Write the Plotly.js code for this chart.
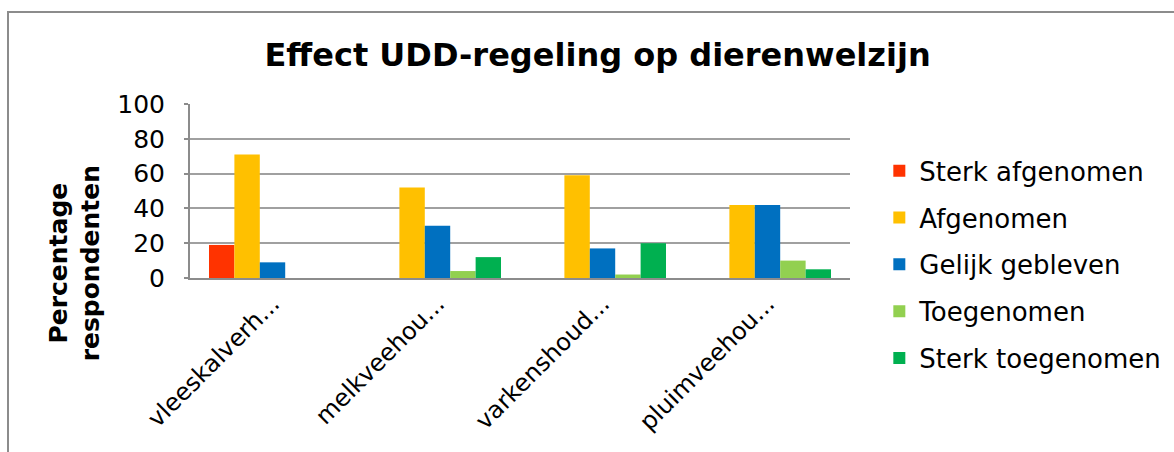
<!DOCTYPE html>
<html>
<head>
<meta charset="utf-8">
<script src="https://cdn.plot.ly/plotly-3.0.1.min.js"></script>
<style>
  html, body { margin: 0; padding: 0; background: #fff; }
  #wrap { position: relative; width: 1174px; height: 452px; overflow: hidden; }
  #chart { width: 1174px; height: 452px; }
  #frame { position: absolute; left: 7px; top: 11px; width: 1200px; height: 500px;
           border-left: 2px solid #8c8c8c; border-top: 2px solid #8c8c8c; pointer-events: none; }
</style>
</head>
<body>
<div id="wrap">
  <div id="chart"></div>
  <div id="frame"></div>
</div>
<script>
const categories = ["vleeskalverh...", "melkveehou...", "varkenshoud...", "pluimveehou..."];
const seriesNames = ["Sterk afgenomen", "Afgenomen", "Gelijk gebleven", "Toegenomen", "Sterk toegenomen"];
const sterkAfgenomen = [19, 0, 0, 0];
const afgenomen = [71, 52, 59, 42];
const gelijkGebleven = [9, 30, 17, 42];
const toegenomen = [0, 4, 2, 10];
const sterkToegenomen = [0, 12, 20, 5];
const yTicks = [0, 20, 40, 60, 80, 100];

const seriesValues = [sterkAfgenomen, afgenomen, gelijkGebleven, toegenomen, sterkToegenomen];
const colors = ["#FF3300", "#FFC000", "#0070C0", "#92D050", "#00B050"];

const traces = seriesNames.map((name, i) => ({
  type: "bar",
  name: name,
  x: categories,
  y: seriesValues[i],
  legendgroup: "g" + i,
  marker: { color: colors[i], line: { width: 0 } },
  hoverinfo: "x+y+name"
}));

const font = "DejaVu Sans, Verdana, sans-serif";

const layout = {
  width: 1174,
  height: 452,
  paper_bgcolor: "#ffffff",
  plot_bgcolor: "#ffffff",
  margin: { l: 190, r: 324, t: 104, b: 174, pad: 0 },
  barmode: "group",
  bargap: 0.23,
  bargroupgap: 0,
  showlegend: true,
  title: {
    text: "<b>Effect UDD-regeling op dierenwelzijn</b>",
    font: { family: font, size: 32, color: "#000" },
    x: 0.509, xanchor: "center", xref: "container",
    y: 0.878, yanchor: "middle", yref: "container"
  },
  xaxis: {
    type: "category",
    tickangle: -45,
    tickfont: { family: font, size: 24, color: "#000" },
    showline: true, linecolor: "#8c8c8c", linewidth: 2,
    ticks: "", showgrid: false, zeroline: false,
    fixedrange: true
  },
  yaxis: {
    range: [0, 100],
    tickvals: yTicks,
    ticktext: yTicks.map(String),
    tickfont: { family: font, size: 25, color: "#000" },
    showline: true, linecolor: "#8c8c8c", linewidth: 2,
    showgrid: true, gridcolor: "#a0a0a0", gridwidth: 2,
    ticks: "outside", ticklen: 4, tickcolor: "#8c8c8c", tickwidth: 2,
    zeroline: false,
    ticklabelstandoff: 14,
    fixedrange: true
  },
  legend: {
    xref: "container", yref: "container",
    x: 0.749, xanchor: "left",
    y: 0.674, yanchor: "top",
    font: { family: font, size: 26, color: "#000" },
    tracegroupgap: 10,
    traceorder: "grouped",
    maxheight: 420,
    bgcolor: "rgba(0,0,0,0)"
  },
  annotations: [{
    text: "<b>Percentage<br>respondenten</b>",
    textangle: -90,
    xref: "paper", yref: "paper",
    x: -0.174, y: 0.085,
    xanchor: "center", yanchor: "middle",
    showarrow: false,
    align: "center",
    font: { family: font, size: 25, color: "#000" }
  }]
};

Plotly.newPlot("chart", traces, layout, { displayModeBar: false, staticPlot: true });
</script>
</body>
</html>
